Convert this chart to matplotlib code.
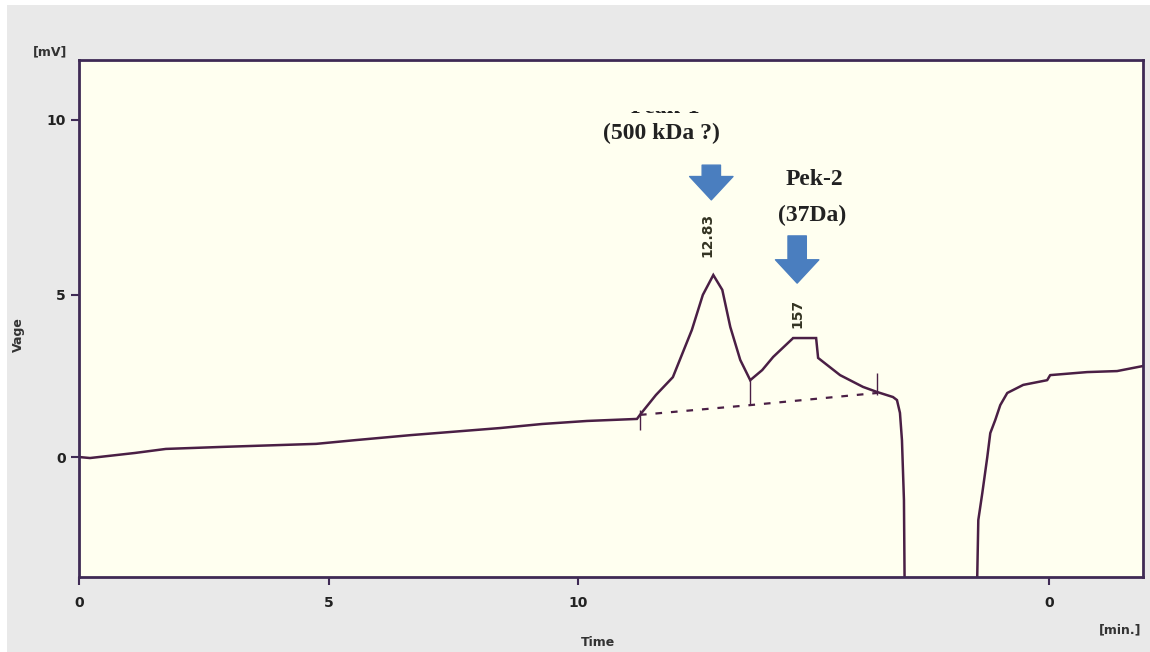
"""
Chromatogram recreation: two labelled peaks with baseline drift and
a solvent dip near the end of the run.
"""

import matplotlib
matplotlib.use("Agg")
import matplotlib.pyplot as plt
from matplotlib.patches import Rectangle
from matplotlib.transforms import Bbox, TransformedBbox

# ---------------------------------------------------------------------------
# Data
# ---------------------------------------------------------------------------

time_min = [0.0, 0.22, 1.12, 1.74, 2.87, 4.75, 5.53, 6.65, 8.44, 9.28, 10.18,
            11.18, 11.24, 11.56, 11.90, 12.28, 12.50, 12.71, 12.89, 13.05,
            13.25, 13.45, 13.69, 13.91, 14.31, 14.77, 14.81, 15.25, 15.71,
            15.99, 16.31, 16.39, 16.45, 16.49, 16.53, 16.55]
signal_mv = [0.0, -0.03, 0.12, 0.24, 0.30, 0.39, 0.50, 0.65, 0.86, 0.98, 1.07,
             1.13, 1.25, 1.84, 2.37, 3.77, 4.81, 5.40, 4.96, 3.86,
             2.88, 2.28, 2.58, 2.97, 3.53, 3.53, 2.94, 2.43, 2.08,
             1.93, 1.78, 1.69, 1.31, 0.50, -1.28, -5.0]

recovery_min = [17.98, 18.02, 18.10, 18.20, 18.26, 18.36, 18.46, 18.60, 18.92,
                19.40, 19.46, 20.20, 20.80, 21.32]
recovery_mv = [-5.0, -1.87, -1.07, 0.0, 0.71, 1.10, 1.54, 1.90, 2.14,
               2.28, 2.43, 2.52, 2.55, 2.70]

# integration baseline under the peaks
base_min = [11.24, 13.45, 15.99]
base_mv = [1.25, 1.54, 1.90]

# peak split markers
split_min = [11.24, 13.45, 15.99]
split_top = [1.40, 2.28, 2.50]
split_bot = [0.80, 1.55, 1.85]

peak_rt = [12.60, 14.39]
peak_label = ["12.83", "157"]
peak_label_y = [6.59, 4.27]

xtick_pos = [0, 5, 10, 19.44]
xtick_lab = ["0", "5", "10", "0"]
ytick_pos = [0, 4.81, 10]
ytick_lab = ["0", "5", "10"]

TRACE = "#4a1f45"
FRAME = "#3f2a55"
ARROW = "#4a7ebf"
BG = "#fffff0"

# ---------------------------------------------------------------------------
# Figure
# ---------------------------------------------------------------------------

fig = plt.figure(figsize=(11.5, 6.52), dpi=100, facecolor="white")
fig.add_artist(Rectangle((7 / 1150, 0), 1, 1 - 5 / 652, transform=fig.transFigure,
                         facecolor="#e9e9e9", edgecolor="none", zorder=-10))

W, H = 1150, 652
ax = fig.add_axes([79 / W, 1 - 577 / H, (1143 - 79) / W, (577 - 60) / H])
ax.set_facecolor(BG)
ax.set_xlim(0, 21.32)
ax.set_ylim(-3.56, 11.78)

ax.plot(time_min, signal_mv, color=TRACE, lw=1.8, solid_joinstyle="miter")
ax.plot(recovery_min, recovery_mv, color=TRACE, lw=1.8)
ax.plot(base_min, base_mv, color=TRACE, lw=1.6, ls=(0, (3, 4)))
ax.vlines(split_min, split_bot, split_top, color=TRACE, lw=1.0)

# flat top drawn by the integrator
ax.plot([14.31, 14.77], [3.53, 3.53], color=TRACE, lw=1.2)

for spine in ax.spines.values():
    spine.set_color(FRAME)
    spine.set_linewidth(2)

ax.set_xticks(xtick_pos)
ax.set_xticklabels(xtick_lab)
ax.set_yticks(ytick_pos)
ax.set_yticklabels(ytick_lab)
ax.tick_params(axis="both", colors=FRAME, length=6, width=1.5, labelsize=10,
               labelcolor="#222222")
ax.tick_params(axis="x", pad=8)
for lab in ax.get_xticklabels() + ax.get_yticklabels():
    lab.set_fontweight("bold")

# axis captions
fig.text(18 / W, 1 - 335 / H, "Vage", rotation=90, ha="center", va="center",
         fontsize=9, fontweight="bold", color="#333333")
fig.text(50 / W, 1 - 52 / H, "[mV]", ha="center", va="center",
         fontsize=9, fontweight="bold", color="#333333")
fig.text(598 / W, 1 - 642 / H, "Time", ha="center", va="center",
         fontsize=9, fontweight="bold", color="#333333")
fig.text(1120 / W, 1 - 630 / H, "[min.]", ha="center", va="center",
         fontsize=9, fontweight="bold", color="#333333")

# peak annotations (the Peak-1 title is mostly hidden, as in the source)
serif = dict(family="Liberation Serif", fontsize=17, fontweight="bold",
             color="#222222")
t1 = ax.text(11.75, 10.21, "Peak-1", ha="center", va="baseline", **serif)
t1.set_clip_box(TransformedBbox(Bbox([[9.0, 9.0], [15.0, 10.28]]), ax.transData))
t1.set_clip_on(True)
ax.text(11.68, 9.61, "(500 kDa ?)", ha="center", va="center", **serif)
ax.text(14.73, 8.22, "Pek-2", ha="center", va="center", **serif)
ax.text(14.69, 7.18, "(37Da)", ha="center", va="center", **serif)

arrows = [(12.67, 8.66, 7.63), (14.39, 6.56, 5.16)]
for x, y0, y1 in arrows:
    ax.annotate("", xy=(x, y1), xytext=(x, y0),
                arrowprops=dict(arrowstyle="simple,head_length=0.7,head_width=1.3,tail_width=0.55",
                                color=ARROW, shrinkA=0, shrinkB=0, mutation_scale=24))

for x, lab, y in zip(peak_rt, peak_label, peak_label_y):
    ax.text(x, y, lab, rotation=90, ha="center", va="center", fontsize=10,
            fontweight="bold", color="#333322")

fig.savefig("out.png", dpi=100, facecolor=fig.get_facecolor())
